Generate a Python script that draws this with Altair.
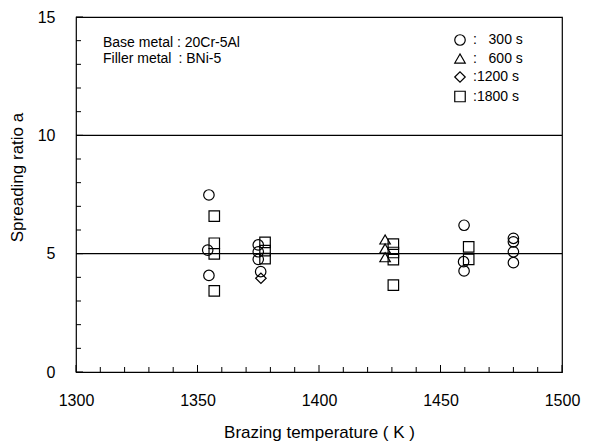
import altair as alt
import pandas as pd

FONT = "Liberation Sans"

# ---- data ----
series = ["300 s", "600 s", "1200 s", "1800 s"]
shapes = ["circle", "triangle-up", "diamond", "square"]

t300_temp = [1354.7, 1354.2, 1354.7, 1375.0, 1375.0, 1375.0, 1376.0,
             1459.7, 1459.5, 1459.7, 1480.0, 1480.0, 1480.0, 1480.0]
t300_ratio = [7.48, 5.15, 4.08, 5.37, 5.08, 4.76, 4.24,
              6.20, 4.66, 4.27, 5.65, 5.50, 5.08, 4.62]

t600_temp = [1427.2, 1427.2, 1427.2]
t600_ratio = [5.60, 5.22, 4.85]

t1200_temp = [1376.1]
t1200_ratio = [3.96]

t1800_temp = [1356.9, 1356.9, 1356.9, 1356.9, 1377.8, 1377.8, 1377.8,
              1430.6, 1430.6, 1430.6, 1430.6, 1461.6, 1461.6]
t1800_ratio = [6.59, 5.44, 4.99, 3.43, 5.48, 5.13, 4.79,
               5.40, 5.05, 4.75, 3.67, 5.29, 4.76]

ref_lines = [5, 10]

x_major = [1300, 1350, 1400, 1450, 1500]
x_minor = [1310, 1320, 1330, 1340, 1360, 1370, 1380, 1390,
           1410, 1420, 1430, 1440, 1460, 1470, 1480, 1490]
y_major = [0, 5, 10, 15]
y_minor = [1, 2, 3, 4, 6, 7, 8, 9, 11, 12, 13, 14]

note_lines = ["Base metal : 20Cr-5Al", "Filler metal\u2002: BNi-5"]

# ---- build tables ----
rows = []
for name, temps, vals in [("300 s", t300_temp, t300_ratio),
                          ("600 s", t600_temp, t600_ratio),
                          ("1200 s", t1200_temp, t1200_ratio),
                          ("1800 s", t1800_temp, t1800_ratio)]:
    for t, v in zip(temps, vals):
        rows.append({"temp": t, "ratio": v, "time": name})
df = pd.DataFrame(rows)

W, H = 486, 355
xs = alt.Scale(domain=[1300, 1500], nice=False, zero=False)
ys = alt.Scale(domain=[0, 15], nice=False, zero=False)

xaxis = alt.Axis(values=x_major, format="d", labelFlush=False,
                 title="Brazing temperature ( K )",
                 titleY=65, titleBaseline="alphabetic", labelPadding=20)
yaxis = alt.Axis(values=y_major, format="d", labelFlush=False,
                 title="Spreading ratio  a",
                 titleAngle=270, titleX=-59, titleY=160,
                 titleAlign="center", titleBaseline="middle", labelPadding=21)


def X(field):
    return alt.X(field, type="quantitative", scale=xs, axis=xaxis)


def Y(field):
    return alt.Y(field, type="quantitative", scale=ys, axis=yaxis)


label_expr = ("datum.label == '300 s' ? ': \u2007300 s' : "
              "datum.label == '600 s' ? ': \u2007600 s' : ':' + datum.label")

points = alt.Chart(df).mark_point(
    size=110, filled=False, color="black", strokeWidth=1.2, opacity=1
).encode(
    x=X("temp"),
    y=Y("ratio"),
    shape=alt.Shape("time:N",
                    scale=alt.Scale(domain=series, range=shapes),
                    sort=series,
                    legend=alt.Legend(orient="none", legendX=377, legendY=16,
                                      title=None, labelExpr=label_expr,
                                      labelFont=FONT, labelFontSize=14,
                                      labelColor="black",
                                      symbolSize=110, symbolStrokeWidth=1.2,
                                      rowPadding=3.5, labelOffset=6, padding=0)),
)

hl = alt.Chart(pd.DataFrame({"y": ref_lines})).mark_rule(
    color="black", strokeWidth=1.2
).encode(y=Y("y"))

xt_major = alt.Chart(pd.DataFrame({"x": x_major})).mark_rule(
    color="black", strokeWidth=1
).encode(x=X("x"), y=alt.value(H), y2=alt.value(H - 7))
xt_minor = alt.Chart(pd.DataFrame({"x": x_minor})).mark_rule(
    color="black", strokeWidth=1
).encode(x=X("x"), y=alt.value(H), y2=alt.value(H - 5))
yt_major = alt.Chart(pd.DataFrame({"y": y_major})).mark_rule(
    color="black", strokeWidth=1
).encode(y=Y("y"), x=alt.value(0), x2=alt.value(7))
yt_minor = alt.Chart(pd.DataFrame({"y": y_minor})).mark_rule(
    color="black", strokeWidth=1
).encode(y=Y("y"), x=alt.value(0), x2=alt.value(5))

note1 = alt.Chart(pd.DataFrame({"t": [note_lines[0]]})).mark_text(
    align="left", baseline="middle", font=FONT, fontSize=14, color="black"
).encode(text="t:N", x=alt.value(27), y=alt.value(26))
note2 = alt.Chart(pd.DataFrame({"t": [note_lines[1]]})).mark_text(
    align="left", baseline="middle", font=FONT, fontSize=14, color="black"
).encode(text="t:N", x=alt.value(27), y=alt.value(41.5))

chart = alt.layer(
    points, hl, xt_major, xt_minor, yt_major, yt_minor, note1, note2
).properties(
    width=W, height=H,
    padding={"left": 68, "top": 9, "right": 35, "bottom": 71},
    autosize=alt.AutoSizeParams(type="none"),
).configure_view(
    stroke="black", strokeWidth=1.2
).configure_axis(
    grid=False, ticks=False, tickSize=0, domain=False,
    labelFont=FONT, labelFontSize=16, labelColor="black",
    titleFont=FONT, titleFontSize=17, titleColor="black",
    titleFontWeight="normal",
)

chart.save("out.html", embed_options={"renderer": "svg", "actions": False})
